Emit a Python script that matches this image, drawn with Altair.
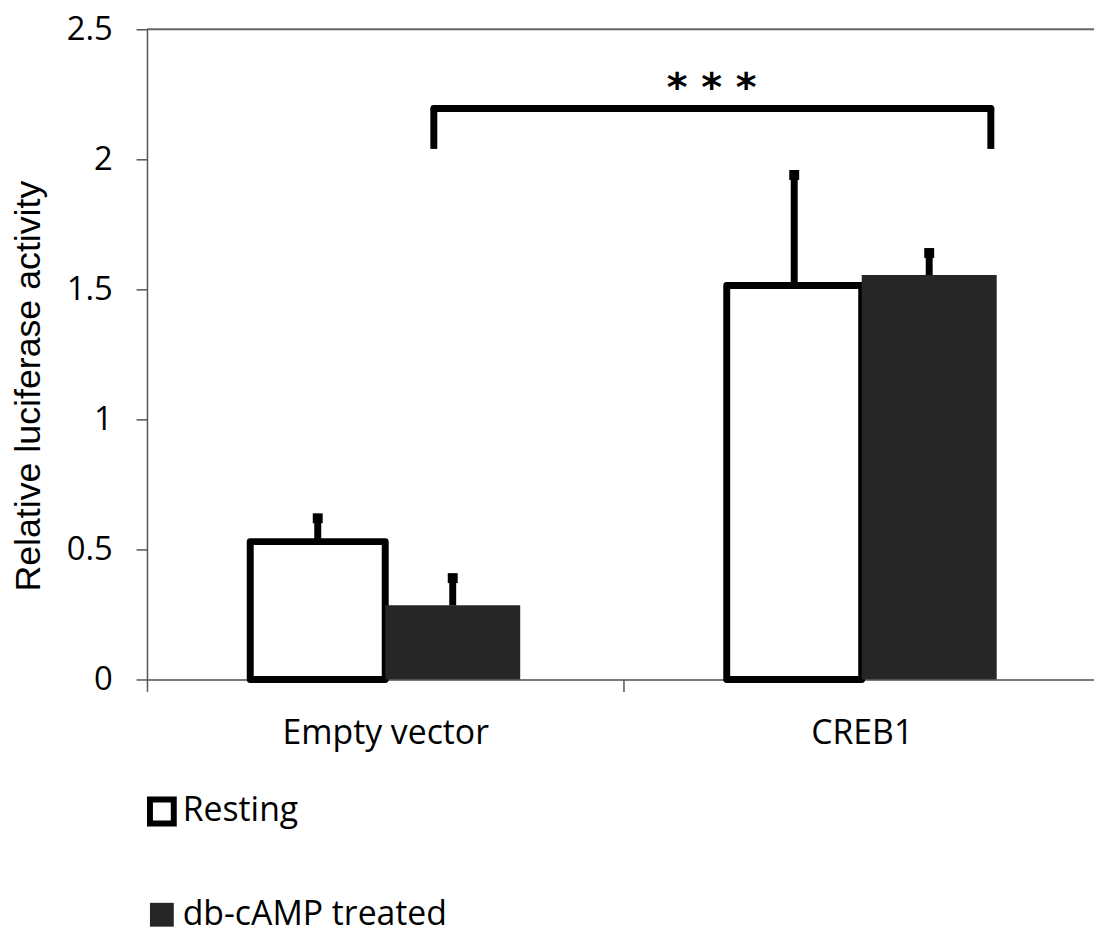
import altair as alt
import pandas as pd

# ---- data ----
groups = ["Empty vector", "CREB1"]
treatments = ["Resting", "db-cAMP treated"]
resting_mean = [0.53, 1.515]
resting_err = [0.105, 0.44]
treated_mean = [0.285, 1.555]
treated_err = [0.12, 0.10]
y_ticks = [0, 0.5, 1, 1.5, 2, 2.5]
bracket_from = ["Empty vector"]
bracket_to = ["CREB1"]
bracket_low = [2.04]
bracket_high = [2.195]
sig_label = ["* * *"]

rows = []
for i, g in enumerate(groups):
    rows.append({"group": g, "treatment": treatments[0], "mean": resting_mean[i], "err": resting_err[i]})
    rows.append({"group": g, "treatment": treatments[1], "mean": treated_mean[i], "err": treated_err[i]})
df = pd.DataFrame(rows)
df["top"] = df["mean"] + df["err"]

br = pd.DataFrame({"from": bracket_from, "to": bracket_to, "low": bracket_low,
                   "high": bracket_high, "label": sig_label})
top_df = pd.DataFrame({"y": [y_ticks[-1]]})

W, H = 960, 655
AX = "#555555"
FONT = "Open Sans"
FS = 34

x_scale = alt.Scale(domain=groups, paddingInner=0, paddingOuter=0)
xo_scale = alt.Scale(domain=treatments, paddingInner=0, paddingOuter=0.765)
y_scale = alt.Scale(domain=[0, 2.5], nice=False, zero=True)

x_axis = alt.Axis(title=None, labelFont=FONT, labelFontSize=FS, labelColor="black",
                  labelPadding=25, labelLimit=600, tickSize=12, tickBand="extent",
                  domainColor=AX, tickColor=AX, domainWidth=1.5, tickWidth=1.5,
                  labelAngle=0, grid=False)
y_axis = alt.Axis(title="Relative luciferase activity", values=y_ticks, format="~g",
                  labelFont=FONT, labelFontSize=33, labelColor="black", labelPadding=24,
                  tickSize=11, grid=False, domainColor=AX, tickColor=AX, domainWidth=1.5,
                  tickWidth=1.5, titleFont="Liberation Sans", titleFontSize=36,
                  titleFontWeight="normal", titleColor="black", titleX=-119, titleY=359,
                  titleAngle=270, titleAlign="center", titleBaseline="middle")

legend = alt.Legend(title=None, orient="none", legendX=-2, legendY=771, direction="vertical",
                    symbolType="square", symbolSize=576, symbolStrokeWidth=6,
                    symbolOpacity=1, labelFont=FONT, labelFontSize=FS, labelColor="black",
                    labelOffset=4, labelLimit=600, rowPadding=56, padding=0)

X = alt.X("group:N", scale=x_scale, axis=x_axis)
XO = alt.XOffset("treatment:N", scale=xo_scale)

bars = alt.Chart(df).mark_bar(strokeWidth=7, strokeJoin="round").encode(
    x=X,
    xOffset=XO,
    y=alt.Y("mean:Q", scale=y_scale, axis=y_axis),
    fill=alt.Fill("treatment:N", scale=alt.Scale(domain=treatments, range=["white", "#262626"]),
                  legend=legend),
    stroke=alt.Stroke("treatment:N", scale=alt.Scale(domain=treatments, range=["black", "transparent"]),
                      legend=legend),
)

err = alt.Chart(df).mark_rule(strokeWidth=7, color="black").encode(
    x=X, xOffset=XO,
    y=alt.Y("mean:Q", scale=y_scale, axis=y_axis),
    y2="top:Q",
)

caps = alt.Chart(df).mark_square(size=100, color="black", opacity=1, yOffset=4).encode(
    x=X, xOffset=XO,
    y=alt.Y("top:Q", scale=y_scale, axis=y_axis),
)

LEFT_BP, RIGHT_BP, MID_BP = 0.602, 0.771, 0.185

left_leg = alt.Chart(br).mark_rule(strokeWidth=7, color="black").encode(
    x=alt.X("from:N", bandPosition=LEFT_BP, scale=x_scale, axis=x_axis),
    y=alt.Y("low:Q", scale=y_scale, axis=y_axis),
    y2="high:Q",
)
right_leg = alt.Chart(br).mark_rule(strokeWidth=7, color="black").encode(
    x=alt.X("to:N", bandPosition=RIGHT_BP, scale=x_scale, axis=x_axis),
    y=alt.Y("low:Q", scale=y_scale, axis=y_axis),
    y2="high:Q",
)
bridge = alt.Chart(br).mark_rule(strokeWidth=7, color="black", strokeCap="round").encode(
    x=alt.X("from:N", bandPosition=LEFT_BP, scale=x_scale, axis=x_axis),
    x2=alt.X2("to:N", bandPosition=RIGHT_BP),
    y=alt.Y("high:Q", scale=y_scale, axis=y_axis),
)
stars = alt.Chart(br).mark_text(font="DejaVu Sans", fontSize=40, fontWeight="bold",
                                 baseline="alphabetic", align="center", dy=-8, color="black").encode(
    x=alt.X("to:N", bandPosition=MID_BP, scale=x_scale, axis=x_axis),
    y=alt.Y("high:Q", scale=y_scale, axis=y_axis),
    text="label:N",
)

top_line = alt.Chart(top_df).mark_rule(color="#6a6a6a", strokeWidth=2).encode(
    y=alt.Y("y:Q", scale=y_scale, axis=y_axis)
)

# the plot runs slightly past the right edge, as in the cropped original
chart = alt.layer(top_line, bars, err, caps, left_leg, right_leg, bridge, stars).properties(
    width=W, height=H,
    padding={"left": 140, "top": 18, "right": -6, "bottom": 256},
    autosize="none",
).configure_view(stroke=None).configure(background="white")

chart.save("out.html", embed_options={"renderer": "svg", "actions": False})
